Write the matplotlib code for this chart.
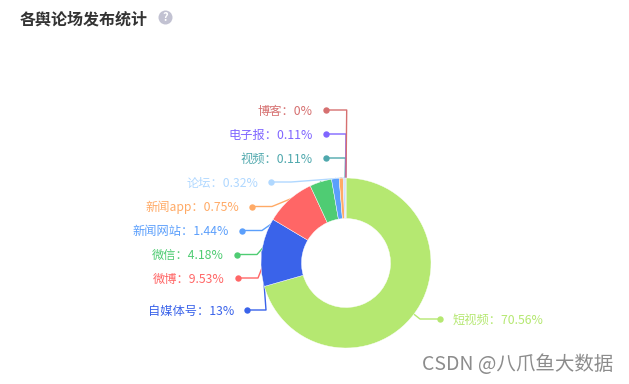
import numpy as np
import matplotlib
matplotlib.use('Agg')
import matplotlib.pyplot as plt
from matplotlib.patches import Circle

plt.rcParams['font.family'] = ['Noto Sans CJK SC', 'DejaVu Sans']

categories = ['短视频', '自媒体号', '微博', '微信', '新闻网站', '新闻app', '论坛', '视频', '电子报', '博客']
shares = [70.56, 13, 9.53, 4.18, 1.44, 0.75, 0.32, 0.11, 0.11, 0]
share_labels = ['70.56%', '13%', '9.53%', '4.18%', '1.44%', '0.75%', '0.32%', '0.11%', '0.11%', '0%']
colors = ['#b5e871', '#3a63ea', '#ff6666', '#4fcc73', '#5b9ffc', '#ffaa66', '#b0d8ff', '#4fa8ad', '#8066ff', '#d67070']

# layout in image pixels, y measured from the top
W, H = 629, 384
center = (346, H - 263)
radius = 85
hole = 44.5
elbow_x = [420, 266, 258, 257, 262, 272, 291, 345.5, 346, 346.7]
dot_x = [440, 247, 238, 237, 242, 252, 271, 326, 326, 326]
row_y = [319, 310, 278, 254.5, 230.5, 206.5, 182, 158, 134, 110]

fig = plt.figure(figsize=(W / 100, H / 100), dpi=100)
ax = fig.add_axes([0, 0, 1, 1])

wedges, _ = ax.pie(shares, colors=colors, startangle=90, counterclock=False,
                   center=center, radius=radius,
                   wedgeprops=dict(width=radius - hole, edgecolor='white', linewidth=0.3, zorder=3))
ax.set_xlim(0, W)
ax.set_ylim(0, H)
ax.set_aspect('equal')
ax.axis('off')

for i, w in enumerate(wedges):
    mid = np.deg2rad((w.theta1 + w.theta2) / 2)
    sx = center[0] + radius * np.cos(mid)
    sy = center[1] + radius * np.sin(mid)
    y = H - row_y[i]
    ax.plot([sx, elbow_x[i], dot_x[i]], [sy, y, y], color=colors[i], lw=1, zorder=2)
    ax.plot(dot_x[i], y, 'o', color=colors[i], ms=4.6, mew=0, zorder=2)
    text = f'{categories[i]}：{share_labels[i]}'
    if dot_x[i] > center[0]:
        ax.text(dot_x[i] + 13, y - 1, text, color=colors[i], fontsize=8.8, ha='left', va='center')
    else:
        ax.text(dot_x[i] - 13, y - 1, text, color=colors[i], fontsize=8.8, ha='right', va='center')

# title and help icon
ax.text(20, H - 20, '各舆论场发布统计', color='#333333', fontsize=11.5, fontweight='bold', ha='left', va='center')
ax.add_patch(Circle((165.5, H - 17.5), 7, color='#c2c2d2', lw=0))
ax.text(165.5, H - 17.5, '?', color='white', fontsize=8, fontweight='bold', ha='center', va='center')

# watermark
ax.text(613, H - 364, 'CSDN @八爪鱼大数据', color='#8c8c8c', fontsize=14, ha='right', va='center')

fig.savefig('out.png', dpi=100)
